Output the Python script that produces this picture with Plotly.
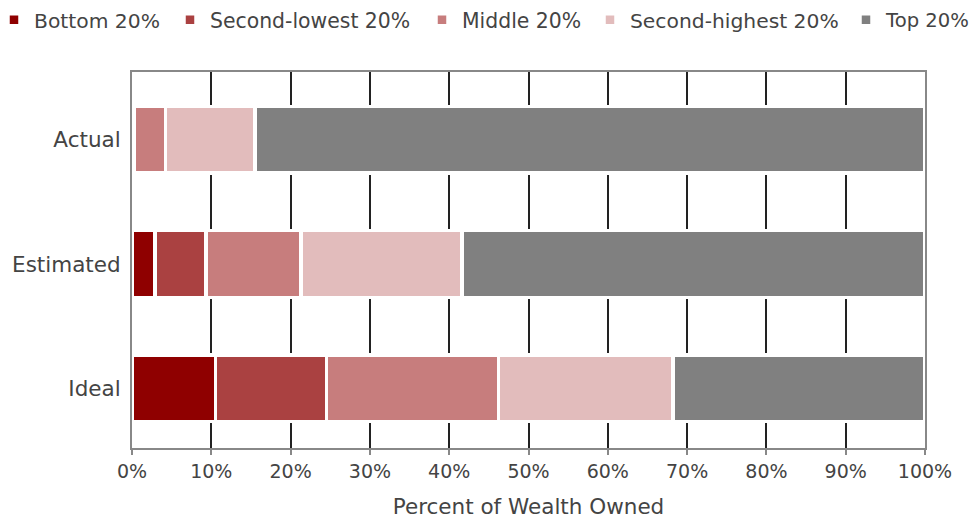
import plotly.graph_objects as go

categories = ["Actual", "Estimated", "Ideal"]
series_names = ["Bottom 20%", "Second-lowest 20%", "Middle 20%", "Second-highest 20%", "Top 20%"]
bottom = [0.1, 2.9, 10.5]
second_lowest = [0.2, 6.4, 14.0]
middle = [3.9, 12.0, 21.7]
second_highest = [11.3, 20.3, 22.0]
top = [84.5, 58.4, 31.8]
colors = ["#8f0000", "#aa4141", "#c77d7d", "#e2bcbc", "#808080"]
x_tick_vals = [0, 10, 20, 30, 40, 50, 60, 70, 80, 90, 100]
x_tick_text = ["0%", "10%", "20%", "30%", "40%", "50%", "60%", "70%", "80%", "90%", "100%"]

FONT = "DejaVu Sans"
TXT = "#444444"
W, H = 976, 519
ML, MR, MT, MB = 132, 51, 72, 71
PW = W - ML - MR

# page x (px) where each legend entry's text should begin, and its font size
legend_text_px = [32, 208, 460, 628, 884]
legend_font_sizes = [20.3, 20.4, 20.4, 20.3, 19.6]
legend_ids = ["legend", "legend2", "legend3", "legend4", "legend5"]

fig = go.Figure()
for name, vals, col, lid in zip(series_names, [bottom, second_lowest, middle, second_highest, top], colors, legend_ids):
    fig.add_trace(go.Bar(
        y=categories, x=vals, name=name, orientation="h",
        marker=dict(color=col, line=dict(color="white", width=3.5)),
        width=0.537, hoverinfo="x+name", legend=lid,
    ))

legend_layout = {}
for lid, tx, fs in zip(legend_ids, legend_text_px, legend_font_sizes):
    legend_layout[lid] = dict(
        orientation="h", xref="paper", x=(tx - 38 - ML) / PW, xanchor="left",
        yref="paper", y=1 + (MT - 20) / (H - MT - MB), yanchor="middle",
        bgcolor="rgba(0,0,0,0)", borderwidth=0,
        font=dict(family=FONT, size=fs, color=TXT), itemclick=False,
    )

fig.update_layout(
    barmode="stack",
    width=W, height=H,
    margin=dict(l=ML, r=MR, t=MT, b=MB, autoexpand=False),
    paper_bgcolor="white", plot_bgcolor="white",
    font=dict(family=FONT, size=19, color=TXT),
    showlegend=True,
    xaxis=dict(
        range=[0, 100], tickvals=x_tick_vals, ticktext=x_tick_text,
        showgrid=True, gridcolor="#222222", gridwidth=1.5,
        showline=True, linecolor="#888888", linewidth=2, mirror=True,
        ticks="outside", ticklen=5, tickcolor="#888888", tickwidth=2,
        zeroline=False, automargin=False,
        title=dict(text="Percent of Wealth Owned", font=dict(family=FONT, size=21.5, color=TXT), standoff=19),
        tickfont=dict(family=FONT, size=19, color=TXT),
    ),
    yaxis=dict(
        categoryorder="array", categoryarray=categories,
        range=[2.48, -0.545], automargin=False,
        showline=True, linecolor="#888888", linewidth=2, mirror=True,
        showgrid=False, ticks="", ticklabelstandoff=5,
        tickfont=dict(family=FONT, size=21.5, color=TXT),
    ),
    **legend_layout,
)

fig.write_html(
    "out.html",
    config={"displayModeBar": False},
    post_script="document.body.style.margin='0';document.body.style.overflow='hidden';",
)
